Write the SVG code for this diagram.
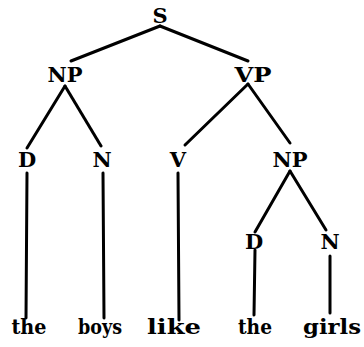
<svg xmlns="http://www.w3.org/2000/svg" width="364" height="347" viewBox="0 0 364 347">
<style>
.lbl{font-family:"DejaVu Serif","Liberation Serif",serif;font-weight:bold;font-size:21px;fill:#000;text-anchor:middle}
.wd{font-family:"DejaVu Serif","Liberation Serif",serif;font-weight:bold;font-size:21px;fill:#000;text-anchor:middle}
.e{stroke:#000;stroke-width:3;stroke-linecap:round;fill:none}
</style>
<rect width="364" height="347" fill="#fff"/>
<g id="connectors">
<line class="e" x1="160" y1="26" x2="71" y2="61"/>
<line class="e" x1="160" y1="26" x2="248" y2="61"/>
<line class="e" x1="65" y1="86" x2="27" y2="148"/>
<line class="e" x1="65" y1="86" x2="101" y2="146"/>
<line class="e" x1="248" y1="84" x2="185" y2="145"/>
<line class="e" x1="248" y1="84" x2="290" y2="143"/>
<line class="e" x1="290" y1="171" x2="255" y2="232"/>
<line class="e" x1="290" y1="171" x2="326" y2="230"/>
<line class="e" x1="27" y1="173" x2="26" y2="318"/>
<line class="e" x1="103" y1="173" x2="104" y2="318"/>
<line class="e" x1="178" y1="173" x2="179" y2="320"/>
<line class="e" x1="255" y1="250" x2="254" y2="315"/>
<line class="e" x1="330" y1="256" x2="330" y2="313"/>
</g>
<g id="S"><text class="lbl" x="160" y="23">S</text></g>
<g id="NP1"><text class="lbl" x="65" y="82" textLength="35" lengthAdjust="spacingAndGlyphs">NP</text></g>
<g id="VP"><text class="lbl" x="253" y="82" textLength="37" lengthAdjust="spacingAndGlyphs">VP</text></g>
<g id="D1"><text class="lbl" x="27" y="167">D</text></g>
<g id="N1"><text class="lbl" x="102" y="167">N</text></g>
<g id="V"><text class="lbl" x="178" y="167">V</text></g>
<g id="NP2"><text class="lbl" x="290" y="167" textLength="35" lengthAdjust="spacingAndGlyphs">NP</text></g>
<g id="D2"><text class="lbl" x="254" y="249">D</text></g>
<g id="N2"><text class="lbl" x="330" y="249">N</text></g>
<g id="w-the1"><text class="wd" x="29" y="334" textLength="35" lengthAdjust="spacingAndGlyphs">the</text></g>
<g id="w-boys"><text class="wd" x="100" y="334" textLength="44" lengthAdjust="spacingAndGlyphs">boys</text></g>
<g id="w-like"><text class="wd" x="174" y="334" textLength="54" lengthAdjust="spacingAndGlyphs">like</text></g>
<g id="w-the2"><text class="wd" x="255" y="334" textLength="34" lengthAdjust="spacingAndGlyphs">the</text></g>
<g id="w-girls"><text class="wd" x="332" y="334" textLength="58" lengthAdjust="spacingAndGlyphs">girls</text></g>
</svg>
